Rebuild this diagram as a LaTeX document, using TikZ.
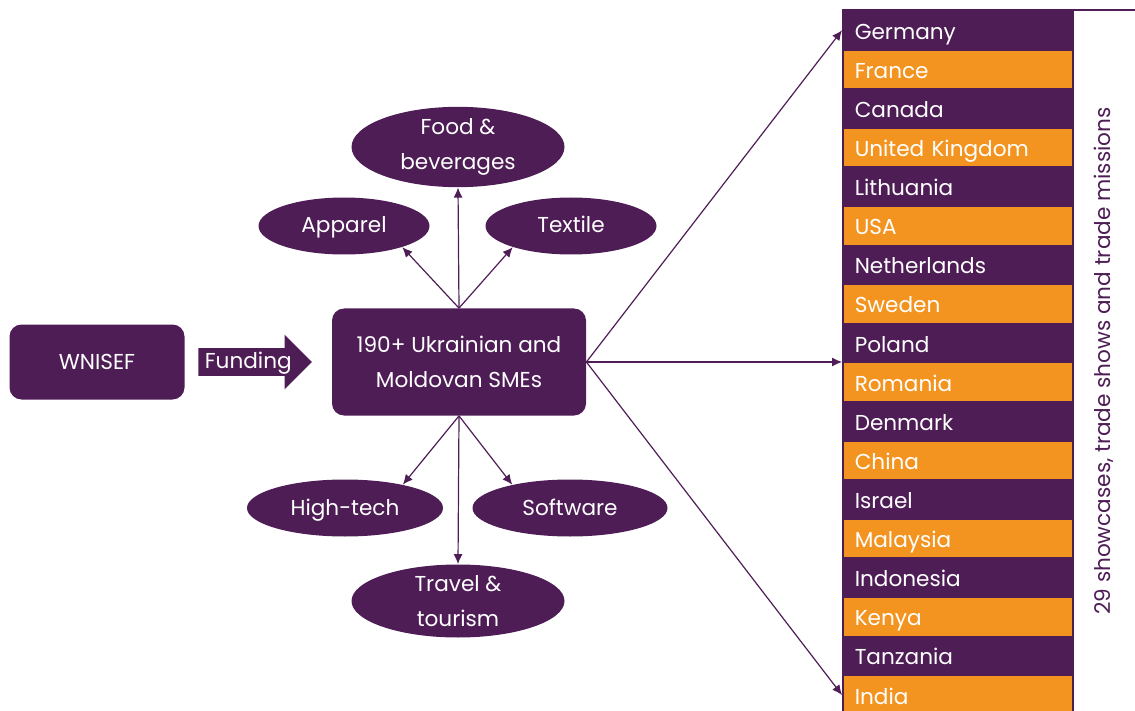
\documentclass[tikz,border=0pt]{standalone}
\usepackage{fontspec}
\setmainfont{Poppins}
\usetikzlibrary{arrows.meta,positioning,shapes.geometric,shapes.arrows}
\definecolor{WnPurple}{HTML}{4E1D56}
\definecolor{WnOrange}{HTML}{F39420}

\begin{document}
\begin{tikzpicture}[x=0.5pt,y=-0.5pt,every node/.style={font=\fontsize{10.8}{17.5}\selectfont,align=center,text=white},
    box/.style={fill=WnPurple,rounded corners=6pt},
    sector/.style={ellipse,fill=WnPurple,inner sep=0pt},
    link/.style={-{Latex[length=5pt,width=4.5pt]},WnPurple,line width=0.6pt}]
    \useasboundingbox (0,0) rectangle (1135,711);
    % left side
    \node[box,minimum width=87.5pt,minimum height=37.5pt] (wnisef) at (97,362) {WNISEF};
    \node[single arrow,fill=WnPurple,anchor=tail,single arrow head extend=6.75pt,single arrow tip angle=90,
      text height=8.5pt,text depth=2.5pt,inner ysep=1.25pt,inner xsep=3pt] (funding) at (198,362) {Funding};
    \node[box,minimum width=127pt,minimum height=53.5pt] (smes) at (459,362) {190+ Ukrainian and\\Moldovan SMEs};
    % sectors
    \node[sector,minimum width=106.5pt,minimum height=35pt] (food) at (458,147) {Food \&\\beverages};
    \node[sector,minimum width=85.5pt,minimum height=28.5pt,text height=8pt,text depth=1pt] (apparel) at (344,226) {Apparel};
    \node[sector,minimum width=85.5pt,minimum height=28.5pt,text height=8pt,text depth=1pt] (textile) at (571,226) {Textile};
    \node[sector,minimum width=98pt,minimum height=28.5pt,text height=8pt,text depth=1pt] (hightech) at (345,508) {High-tech};
    \node[sector,minimum width=97.5pt,minimum height=28.5pt,text height=8pt,text depth=1pt] (software) at (570,508) {Software};
    \node[sector,minimum width=106.5pt,minimum height=36.5pt] (travel) at (458,601) {Travel \&\\tourism};
    \draw[link] (smes.north) -- (food.south);
    \draw[link] (smes.north) -- (apparel.-20);
    \draw[link] (smes.north) -- (textile.-160);
    \draw[link] (smes.south) -- (hightech.22);
    \draw[link] (smes.south) -- (software.158);
    \draw[link] (smes.south) -- (travel.north);
    % countries
    \foreach \name [count=\i] in {Germany,France,Canada,United Kingdom,Lithuania,USA,Netherlands,Sweden,Poland,
        Romania,Denmark,China,Israel,Malaysia,Indonesia,Kenya,Tanzania,India}{
      \ifodd\i \def\rowfill{WnPurple}\else \def\rowfill{WnOrange}\fi
      \node[fill=\rowfill,draw=WnPurple,line width=0.75pt,anchor=north west,text width=103pt,align=left,
        text height=10pt,text depth=1pt,inner xsep=6pt,inner ysep=0pt,minimum height=19.55pt] (c\i) at (842,{10+39.1*(\i-1)}) {\name};
    }
    \draw[WnPurple,line width=0.6pt] (c1.north west) -- (1135,10);
    \node[rotate=90,text=WnPurple] (missions) at (1104,361) {29 showcases, trade shows and trade missions};
    \draw[link] (smes.east) -- (c1.west);
    \draw[link] (smes.east) -- (smes.east -| c9.west);
    \draw[link] (smes.east) -- (c18.west);
\end{tikzpicture}
\end{document}
